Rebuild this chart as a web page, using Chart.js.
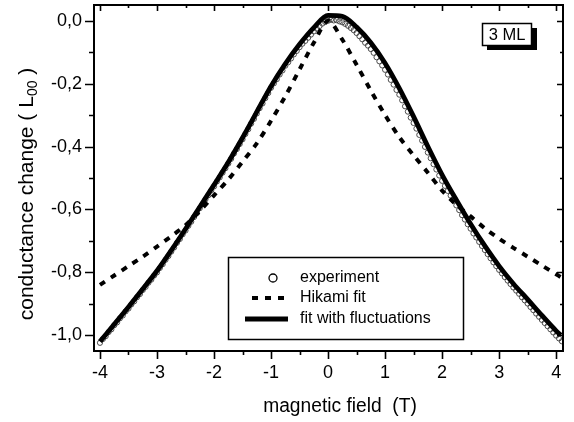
<!DOCTYPE html>
<html>
<head>
<meta charset="utf-8">
<script src="https://cdn.jsdelivr.net/npm/chart.js@4/dist/chart.umd.min.js"></script>
<style>
  html, body { margin: 0; padding: 0; background: #fff; }
  #wrap { width: 574px; height: 422px; }
</style>
</head>
<body>
<div id="wrap"><canvas id="cond_chart" width="574" height="422"></canvas></div>
<script>
// experiment (open circles)
const fieldExp = [
  -4.00, -3.95, -3.90, -3.85, -3.80, -3.75, -3.70, -3.65, -3.60, -3.55,
  -3.50, -3.45, -3.40, -3.35, -3.30, -3.25, -3.20, -3.15, -3.10, -3.05,
  -3.00, -2.95, -2.90, -2.85, -2.80, -2.75, -2.70, -2.65, -2.60, -2.55,
  -2.50, -2.45, -2.40, -2.35, -2.30, -2.25, -2.20, -2.15, -2.10, -2.05,
  -2.00, -1.95, -1.90, -1.85, -1.80, -1.75, -1.70, -1.65, -1.60, -1.55,
  -1.50, -1.45, -1.40, -1.35, -1.30, -1.25, -1.20, -1.15, -1.10, -1.05,
  -1.00, -0.95, -0.90, -0.85, -0.80, -0.75, -0.70, -0.65, -0.60, -0.55,
  -0.50, -0.45, -0.40, -0.35, -0.30, -0.25, -0.20, -0.15, -0.10, -0.05,
  0.00, 0.05, 0.10, 0.15, 0.20, 0.25, 0.30, 0.35, 0.40, 0.45,
  0.50, 0.55, 0.60, 0.65, 0.70, 0.75, 0.80, 0.85, 0.90, 0.95,
  1.00, 1.05, 1.10, 1.15, 1.20, 1.25, 1.30, 1.35, 1.40, 1.45,
  1.50, 1.55, 1.60, 1.65, 1.70, 1.75, 1.80, 1.85, 1.90, 1.95,
  2.00, 2.05, 2.10, 2.15, 2.20, 2.25, 2.30, 2.35, 2.40, 2.45,
  2.50, 2.55, 2.60, 2.65, 2.70, 2.75, 2.80, 2.85, 2.90, 2.95,
  3.00, 3.05, 3.10, 3.15, 3.20, 3.25, 3.30, 3.35, 3.40, 3.45,
  3.50, 3.55, 3.60, 3.65, 3.70, 3.75, 3.80, 3.85, 3.90, 3.95,
  4.00, 4.05, 4.10
];
const condExp = [
  -1.024, -1.012, -1.003, -0.990, -0.981, -0.968, -0.959, -0.946, -0.937, -0.924,
  -0.915, -0.902, -0.892, -0.879, -0.869, -0.856, -0.846, -0.833, -0.823, -0.810,
  -0.800, -0.786, -0.774, -0.760, -0.748, -0.734, -0.721, -0.706, -0.694, -0.679,
  -0.667, -0.652, -0.639, -0.624, -0.611, -0.596, -0.583, -0.568, -0.555, -0.540,
  -0.527, -0.511, -0.498, -0.483, -0.469, -0.454, -0.439, -0.422, -0.408, -0.392,
  -0.377, -0.360, -0.345, -0.327, -0.312, -0.295, -0.278, -0.263, -0.246, -0.230,
  -0.213, -0.199, -0.186, -0.171, -0.158, -0.143, -0.132, -0.120, -0.107, -0.096,
  -0.084, -0.073, -0.064, -0.054, -0.044, -0.034, -0.025, -0.017, -0.009, -0.004,
  0.000, 0.003, 0.001, 0.002, -0.002, -0.005, -0.010, -0.016, -0.023, -0.030,
  -0.039, -0.049, -0.059, -0.070, -0.079, -0.090, -0.102, -0.116, -0.129, -0.142,
  -0.156, -0.171, -0.188, -0.203, -0.220, -0.235, -0.253, -0.272, -0.289, -0.308,
  -0.325, -0.343, -0.363, -0.381, -0.401, -0.419, -0.437, -0.456, -0.473, -0.492,
  -0.509, -0.525, -0.541, -0.556, -0.572, -0.587, -0.602, -0.618, -0.632, -0.647,
  -0.661, -0.676, -0.689, -0.703, -0.716, -0.729, -0.742, -0.755, -0.768, -0.780,
  -0.792, -0.803, -0.815, -0.826, -0.837, -0.848, -0.858, -0.868, -0.879, -0.889,
  -0.899, -0.910, -0.920, -0.931, -0.941, -0.951, -0.961, -0.971, -0.981, -0.991,
  -1.001, -1.010, -1.019
];

// fits
const fieldFit = [
  -4.00, -3.75, -3.50, -3.25, -3.00, -2.75, -2.50, -2.25, -2.00, -1.75, -1.50, -1.25,
  -1.00, -0.75, -0.50, -0.25, 0.00, 0.25, 0.50, 0.75, 1.00, 1.25, 1.50, 1.75,
  2.00, 2.25, 2.50, 2.75, 3.00, 3.25, 3.50, 3.75, 4.00, 4.08
];
const condFluct = [
  -1.020, -0.965, -0.910, -0.853, -0.795, -0.730, -0.662, -0.592, -0.522, -0.450, -0.372, -0.290,
  -0.208, -0.137, -0.075, -0.022, 0.017, 0.014, -0.020, -0.070, -0.135, -0.215, -0.305, -0.400,
  -0.490, -0.570, -0.646, -0.716, -0.780, -0.836, -0.886, -0.937, -0.986, -1.000
];
const condHikami = [
  -0.840, -0.810, -0.780, -0.750, -0.718, -0.685, -0.650, -0.605, -0.555, -0.505, -0.448, -0.390,
  -0.318, -0.240, -0.155, -0.070, 0.000, -0.060, -0.140, -0.222, -0.300, -0.370, -0.428, -0.483,
  -0.540, -0.585, -0.622, -0.660, -0.693, -0.722, -0.750, -0.778, -0.806, -0.815
];

const xMajor = [-4, -3, -2, -1, 0, 1, 2, 3, 4];
const xMinor = [-3.5, -2.5, -1.5, -0.5, 0.5, 1.5, 2.5, 3.5];
const yMajor = [0, -0.2, -0.4, -0.6, -0.8, -1.0];
const yMinor = [-0.1, -0.3, -0.5, -0.7, -0.9];

const legendLabels = ["experiment", "Hikami fit", "fit with fluctuations"];
const sampleLabel = "3 ML";
const xTitle = "magnetic field  (T)";
const yTitleMain = "conductance change ( L";
const yTitleSub = "00";
const yTitleEnd = " )";

const FONT = "'Liberation Sans', Arial, Helvetica, sans-serif";

function toPts(xs, ys) {
  return xs.map((x, i) => ({x: x, y: ys[i]}));
}

// frame + mirrored ticks (major and minor)
const framePlugin = {
  id: 'frame',
  afterDatasetsDraw(chart) {
    const {ctx, chartArea: a, scales} = chart;
    const sx = scales.x, sy = scales.y;
    ctx.save();
    ctx.strokeStyle = '#000';
    ctx.lineWidth = 2;
    ctx.strokeRect(a.left, a.top, a.right - a.left, a.bottom - a.top);
    ctx.lineWidth = 1.6;
    ctx.beginPath();
    const tickX = (vals, outLen, inLen) => {
      vals.forEach(v => {
        const px = Math.round(sx.getPixelForValue(v)) + 0.5;
        ctx.moveTo(px, a.bottom); ctx.lineTo(px, a.bottom + outLen);
        ctx.moveTo(px, a.top); ctx.lineTo(px, a.top + inLen);
      });
    };
    const tickY = (vals, outLen, inLen) => {
      vals.forEach(v => {
        const py = Math.round(sy.getPixelForValue(v)) + 0.5;
        ctx.moveTo(a.left, py); ctx.lineTo(a.left - outLen, py);
        ctx.moveTo(a.right, py); ctx.lineTo(a.right - inLen, py);
      });
    };
    tickX(xMajor, 8, 6);
    tickX(xMinor, 4, 3);
    tickY(yMajor, 9, 6);
    tickY(yMinor, 5, 3);
    ctx.stroke();
    ctx.restore();
  }
};

// legend box, sample label, axis titles
const annotPlugin = {
  id: 'annot',
  afterDraw(chart) {
    const ctx = chart.ctx;
    const ds = chart.data.datasets;
    ctx.save();

    // legend
    ctx.fillStyle = '#fff';
    ctx.fillRect(228, 257, 235, 82);
    ctx.strokeStyle = '#000';
    ctx.lineWidth = 1.5;
    ctx.strokeRect(228.5, 257.5, 235, 82);
    const rows = [278, 298, 319];
    // circle
    ctx.beginPath();
    ctx.lineWidth = 1.3;
    ctx.arc(273, rows[0], 4, 0, Math.PI * 2);
    ctx.stroke();
    // dashed
    ctx.beginPath();
    ctx.lineWidth = ds[1].borderWidth;
    ctx.setLineDash(ds[1].borderDash);
    ctx.moveTo(252, rows[1]); ctx.lineTo(290, rows[1]);
    ctx.stroke();
    ctx.setLineDash([]);
    // solid
    ctx.beginPath();
    ctx.lineWidth = 5;
    ctx.moveTo(245, rows[2]); ctx.lineTo(288, rows[2]);
    ctx.stroke();
    ctx.fillStyle = '#000';
    ctx.font = "16px " + FONT;
    ctx.textBaseline = 'middle';
    ctx.textAlign = 'left';
    legendLabels.forEach((t, i) => ctx.fillText(t, 300, rows[i]));

    // 3 ML box with shadow
    ctx.fillStyle = '#000';
    ctx.fillRect(487, 28, 50, 22);
    ctx.fillStyle = '#fff';
    ctx.fillRect(482, 23, 50, 22);
    ctx.lineWidth = 1.5;
    ctx.strokeRect(482.5, 23.5, 49, 22);
    ctx.fillStyle = '#000';
    ctx.textAlign = 'center';
    ctx.font = "16.5px " + FONT;
    ctx.fillText(sampleLabel, 507, 35);

    // x title (slightly condensed like the original)
    ctx.save();
    ctx.translate(340, 406);
    ctx.scale(0.96, 1);
    ctx.font = "20px " + FONT;
    ctx.fillText(xTitle, 0, 0);
    ctx.restore();

    // y title with subscript
    ctx.translate(27, 194);
    ctx.rotate(-Math.PI / 2);
    const fMain = "21px " + FONT, fSub = "14px " + FONT;
    ctx.font = fMain;
    const w1 = ctx.measureText(yTitleMain).width;
    const w3 = ctx.measureText(yTitleEnd).width;
    ctx.font = fSub;
    const w2 = ctx.measureText(yTitleSub).width;
    let x0 = -(w1 + w2 + w3) / 2;
    ctx.textAlign = 'left';
    ctx.font = fMain;
    ctx.fillText(yTitleMain, x0, 0);
    ctx.font = fSub;
    ctx.fillText(yTitleSub, x0 + w1, 6);
    ctx.font = fMain;
    ctx.fillText(yTitleEnd, x0 + w1 + w2, 0);
    ctx.restore();
  }
};

const ctx = document.getElementById('cond_chart');
const config = {
  type: 'scatter',
  data: {
    datasets: [{
      label: legendLabels[0],
      data: toPts(fieldExp, condExp),
      showLine: false,
      pointRadius: 2.6,
      pointBorderWidth: 0.9,
      pointBorderColor: '#3a3a3a',
      pointBackgroundColor: 'rgba(255,255,255,0)',
      order: 3
    }, {
      label: legendLabels[1],
      data: toPts(fieldFit, condHikami),
      showLine: true,
      pointRadius: 0,
      borderColor: '#000',
      borderWidth: 4,
      borderDash: [6, 7],
      tension: 0.3,
      order: 2
    }, {
      label: legendLabels[2],
      data: toPts(fieldFit, condFluct),
      showLine: true,
      pointRadius: 0,
      borderColor: '#000',
      borderWidth: 4.8,
      cubicInterpolationMode: 'monotone',
      order: 1
    }]
  },
  options: {
    responsive: false,
    animation: false,
    devicePixelRatio: 1,
    layout: { padding: { left: 0, right: 11, top: 5, bottom: 0 } },
    plugins: {
      legend: { display: false },
      tooltip: { enabled: false }
    },
    scales: {
      x: {
        type: 'linear',
        min: -4.105,
        max: 4.12,
        afterBuildTicks: (scale) => { scale.ticks = xMajor.map(v => ({value: v})); },
        afterFit: (scale) => {
          scale.height = 71;
          scale.paddingLeft = 0; scale.paddingRight = 0;
        },
        grid: { display: false, drawTicks: false },
        border: { display: false },
        ticks: {
          color: '#000',
          font: { family: FONT, size: 18 },
          padding: 11,
          maxRotation: 0,
          callback: (v) => String(v)
        },
        title: { display: false, text: xTitle }
      },
      y: {
        type: 'linear',
        min: -1.05,
        max: 0.05,
        afterBuildTicks: (scale) => { scale.ticks = yMajor.map(v => ({value: v})); },
        afterFit: (scale) => {
          scale.width = 94;
          scale.paddingTop = 0; scale.paddingBottom = 0;
        },
        grid: { display: false, drawTicks: false },
        border: { display: false },
        ticks: {
          color: '#000',
          font: { family: FONT, size: 18 },
          padding: 12,
          callback: (v) => v.toFixed(1).replace('.', ',')
        },
        title: { display: false }
      }
    }
  },
  plugins: [framePlugin, annotPlugin]
};

new Chart(ctx, config);
</script>
</body>
</html>
